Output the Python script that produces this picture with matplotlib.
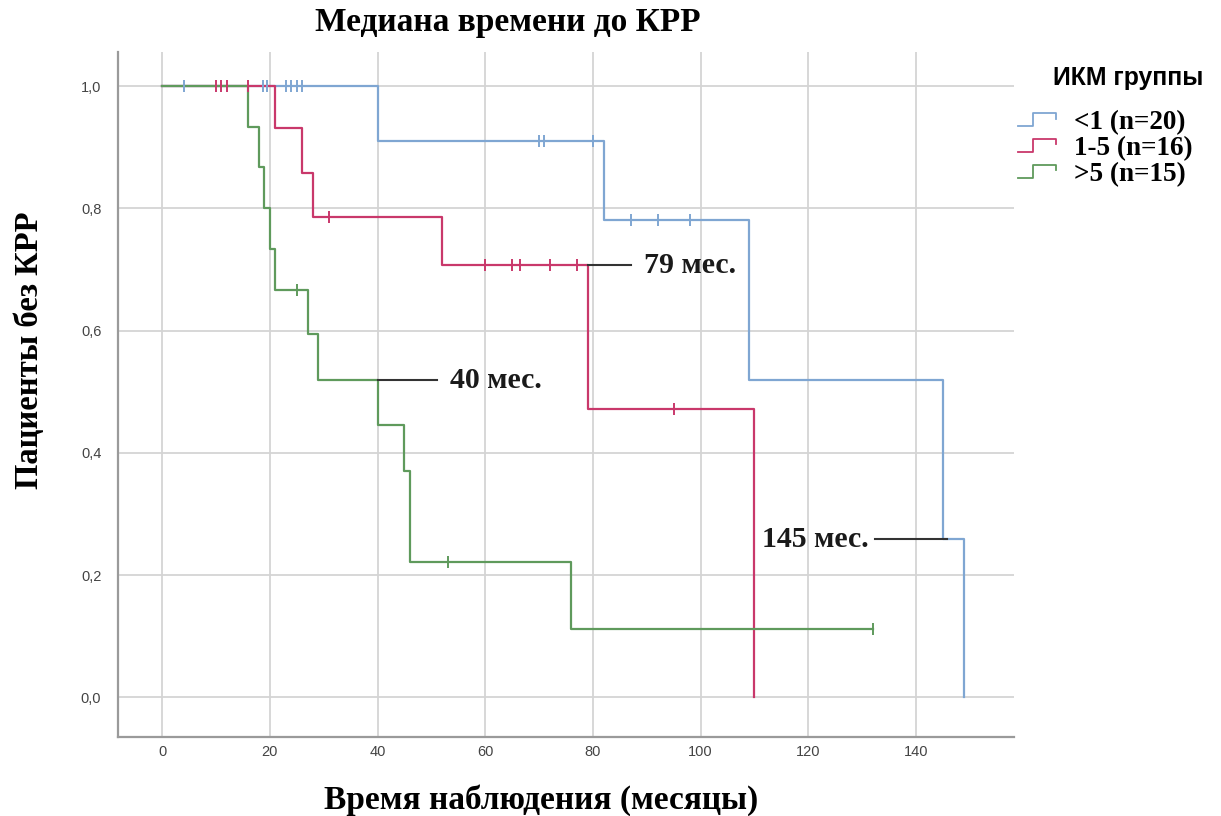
import numpy as np
import matplotlib
matplotlib.use("Agg")
import matplotlib.pyplot as plt
from matplotlib.lines import Line2D
from matplotlib.legend_handler import HandlerBase
from matplotlib.font_manager import FontProperties

# ---------------- data ----------------
group_labels = ["<1 (n=20)", "1-5 (n=16)", ">5 (n=15)"]
group_colors = ["#7fa6d2", "#c9386b", "#5f9a5c"]

blue_times = [0, 40, 82, 109, 145, 149]
blue_surv = [1.0, 0.91, 0.781, 0.519, 0.259, 0.0]
blue_end = 149
blue_censor = [4, 18.8, 19.5, 23, 24, 25, 26, 70, 71, 80, 87, 92, 98]

red_times = [0, 21, 26, 28, 52, 79, 110]
red_surv = [1.0, 0.932, 0.858, 0.786, 0.707, 0.472, 0.0]
red_end = 110
red_censor = [10, 11, 12, 16, 31, 60, 65, 66.5, 72, 77, 95]

green_times = [0, 16, 18, 19, 20, 21, 27, 29, 40, 45, 46, 76]
green_surv = [1.0, 0.934, 0.868, 0.80, 0.734, 0.667, 0.594, 0.519, 0.445, 0.371, 0.222, 0.111]
green_end = 132
green_censor = [25, 53, 132]

x_ticks = [0, 20, 40, 60, 80, 100, 120, 140]
y_ticks = [0.0, 0.2, 0.4, 0.6, 0.8, 1.0]
y_tick_labels = ["0,0", "0,2", "0,4", "0,6", "0,8", "1,0"]

# median annotations: (median time, level, leader end, text x, text, align)
medians = [
    (40, 0.519, 51, 53.5, "40 мес.", "left"),
    (79, 0.707, 87, 89.4, "79 мес.", "left"),
    (145.7, 0.259, 132.3, 131.2, "145 мес.", "right"),
]

title = "Медиана времени до КРР"
xlabel = "Время наблюдения (месяцы)"
ylabel = "Пациенты без КРР"
legend_title = "ИКМ группы"

# ---------------- figure ----------------
fig = plt.figure(figsize=(12.21, 8.16), dpi=100)
ax = fig.add_axes([118 / 1221, 1 - 737 / 816, (1014 - 118) / 1221, (737 - 52) / 816])

serif = ["Liberation Serif", "DejaVu Serif"]
sans = ["Liberation Sans", "DejaVu Sans"]

groups = [
    (blue_times, blue_surv, blue_end, blue_censor),
    (red_times, red_surv, red_end, red_censor),
    (green_times, green_surv, green_end, green_censor),
]

for (t, s, end, cens), col, lab in zip(groups, group_colors, group_labels):
    xs = list(t) + [end]
    ys = list(s) + [s[-1]]
    ax.step(xs, ys, where="post", color=col, lw=1.6, label=lab, zorder=3)
    t_arr = np.array(t)
    cy = [s[np.searchsorted(t_arr, c, side="right") - 1] for c in cens]
    ax.plot(cens, cy, ls="none", marker="|", ms=9, mew=1.4, color=col, zorder=4)

for mt, lvl, lend, tx, txt, ha in medians:
    ax.plot([mt, lend], [lvl, lvl], color="#333333", lw=1.5, zorder=5)
    ax.text(tx, lvl, txt, ha=ha, va="center", fontsize=21.5, fontweight="bold",
            family=serif, color="#1a1a1a")

ax.set_xlim(-8.2, 158.2)
ax.set_ylim(-0.065, 1.056)
ax.set_xticks(x_ticks)
ax.set_yticks(y_ticks)
ax.set_yticklabels(y_tick_labels)
ax.tick_params(length=0, labelsize=10.5, colors="#444444")
ax.tick_params(axis="x", pad=6)
ax.tick_params(axis="y", pad=12)
for lbl in ax.get_xticklabels() + ax.get_yticklabels():
    lbl.set_family(sans)
ax.grid(True, color="#d4d4d4", lw=1.3, zorder=0)
ax.set_axisbelow(True)
for side in ["top", "right"]:
    ax.spines[side].set_visible(False)
for side in ["left", "bottom"]:
    ax.spines[side].set_color("#9a9a9a")
    ax.spines[side].set_linewidth(1.6)

fig.text(508 / 1221, 1 - 22 / 816, title, ha="center", va="center",
         fontsize=24, fontweight="bold", family=serif)
fig.text(541 / 1221, 1 - 800 / 816, xlabel, ha="center", va="center",
         fontsize=24, fontweight="bold", family=serif)
fig.text(30 / 1221, 1 - 350 / 816, ylabel, ha="center", va="center", rotation=90,
         fontsize=23.5, fontweight="bold", family=serif)


class StepHandler(HandlerBase):
    def create_artists(self, legend, orig_handle, xdescent, ydescent, width, height, fontsize, trans):
        x0, y0 = -xdescent, -ydescent
        xs = [x0, x0 + 0.4 * width, x0 + 0.4 * width, x0 + width, x0 + width]
        ys = [y0 + 0.15 * height, y0 + 0.15 * height, y0 + 0.85 * height, y0 + 0.85 * height, y0 + 0.55 * height]
        ln = Line2D(xs, ys, color=orig_handle.get_color(), lw=1.3, transform=trans)
        return [ln]


handles = [Line2D([], [], color=c) for c in group_colors]
leg = fig.legend(handles, group_labels, loc="upper left",
                 bbox_to_anchor=(1018 / 1221, 1 - 110 / 816),
                 frameon=False, handler_map={Line2D: StepHandler()},
                 borderpad=0, borderaxespad=0,
                 handlelength=1.4, handletextpad=0.65, labelspacing=0.03,
                 prop=FontProperties(family=serif, weight="bold", size=19.5))
fig.text(1203 / 1221, 1 - 78 / 816, legend_title, ha="right", va="center",
         fontsize=17.8, fontweight="bold", family=sans)

fig.savefig("out.png", dpi=100, facecolor="white")
